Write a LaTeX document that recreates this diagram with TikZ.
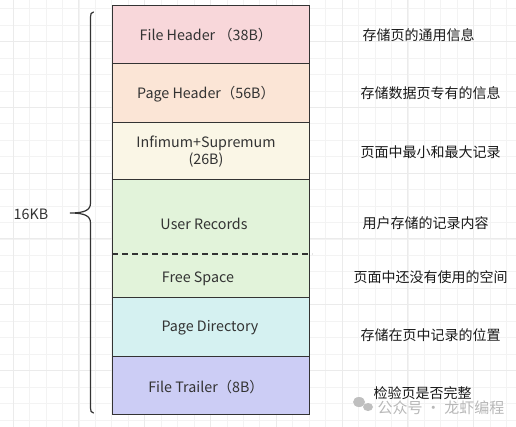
\documentclass[tikz,border=0pt]{standalone}
\usepackage{fontspec}
\setmainfont{Noto Sans CJK SC}
\begin{document}
\begin{tikzpicture}[x=1pt,y=-1pt,
  seg/.style={draw=black!80, line width=1.3pt},
  lbl/.style={font=\fontsize{14.3}{17}\selectfont, text=black!80, align=center},
  note/.style={font=\fontsize{14}{17}\selectfont, text=black!90, anchor=west},
  brace/.style={draw=black!80, line width=1.2pt, line cap=round}]
\definecolor{cFH}{HTML}{F8D7DA}
\definecolor{cPH}{HTML}{FBE5D6}
\definecolor{cIS}{HTML}{FAF6E6}
\definecolor{cUR}{HTML}{E2F3DA}
\definecolor{cPD}{HTML}{D5F1F1}
\definecolor{cFT}{HTML}{CCCDF5}
\definecolor{gridminor}{HTML}{F3F3F3}
\definecolor{gridmajor}{HTML}{EBEBEB}
\useasboundingbox (0,0) rectangle (516,427);
\fill[white] (0,0) rectangle (516,427);
% grid
\foreach \i in {-1,...,31} {
  \pgfmathsetmacro{\xx}{13+16.45*\i}
  \draw[gridminor, line width=0.6pt] (\xx,0) -- (\xx,427);
}
\foreach \i in {-1,...,26} {
  \pgfmathsetmacro{\yy}{8.6+16.45*\i}
  \draw[gridminor, line width=0.6pt] (0,\yy) -- (516,\yy);
}
\foreach \i in {0,...,7} {
  \pgfmathsetmacro{\xx}{13+65.8*\i}
  \draw[gridmajor, line width=0.9pt] (\xx,0) -- (\xx,427);
}
\foreach \i in {-1,...,6} {
  \pgfmathsetmacro{\yy}{107.3+65.8*\i}
  \draw[gridmajor, line width=0.9pt] (0,\yy) -- (516,\yy);
}
% boxes
\node[seg, fill=cFH, minimum width=197pt, minimum height=58pt, anchor=north west, inner sep=0] (fh) at (112,5) {};
\node[seg, fill=cPH, minimum width=197pt, minimum height=59pt, anchor=north west, inner sep=0] (ph) at (112,63) {};
\node[seg, fill=cIS, minimum width=197pt, minimum height=57pt, anchor=north west, inner sep=0] (is) at (112,122) {};
\node[seg, fill=cUR, minimum width=197pt, minimum height=118pt, anchor=north west, inner sep=0] (ur) at (112,179) {};
\node[seg, fill=cPD, minimum width=197pt, minimum height=59pt, anchor=north west, inner sep=0] (pd) at (112,297) {};
\node[seg, fill=cFT, minimum width=197pt, minimum height=58pt, anchor=north west, inner sep=0] (ft) at (112,356) {};
% dashed divider
\coordinate (dl) at (112,254);
\coordinate (dr) at (312,254);
\draw[black!80, line width=1.2pt, dash pattern=on 6pt off 4pt] (dl) -- (dr);
% labels in boxes
\node[lbl] (tfh) at (206,35) {File Header （38B）};
\node[lbl] (tph) at (206,94) {Page Header（56B）};
\node[lbl] (tis) at (206,152) {Infimum+Supremum\\(26B)};
\node[lbl] (tur) at (204,224) {User Records};
\node[lbl] (tfs) at (198,279) {Free Space};
\node[lbl] (tpd) at (210,328) {Page Directory};
\node[lbl] (tft) at (206,387) {File Trailer（8B）};
% brace
\draw[brace] (93.5,12) .. controls (91,12.5) and (90.5,14) .. (90.5,17)
  -- (90.5,203) .. controls (90.5,210) and (85,213) .. (70,213)
  .. controls (85,213) and (90.5,216) .. (90.5,223)
  -- (90.5,408) .. controls (90.5,411) and (91,412.5) .. (93.5,413);
\node[font=\fontsize{14.3}{17}\selectfont, text=black!80] (kb) at (31,214) {16KB};
% notes
\node[note] (n1) at (359,35) {存储页的通用信息};
\node[note] (n2) at (357,93) {存储数据页专有的信息};
\node[note] (n3) at (357,152) {页面中最小和最大记录};
\node[note] (n4) at (359,223) {用户存储的记录内容};
\node[note] (n5) at (350,277) {页面中还没有使用的空间};
\node[note] (n6) at (357,335) {存储在页中记录的位置};
\node[note] (n7) at (370,393) {检验页是否完整};
% watermark
\fill[black!25] (359,402) ellipse (6pt and 5pt);
\fill[black!25] (368,407) ellipse (5pt and 4pt);
\node[font=\fontsize{15}{17}\selectfont, text=black!28, anchor=west] (wm) at (374,408) {公众号 · 龙虾编程};
\end{tikzpicture}
\end{document}
